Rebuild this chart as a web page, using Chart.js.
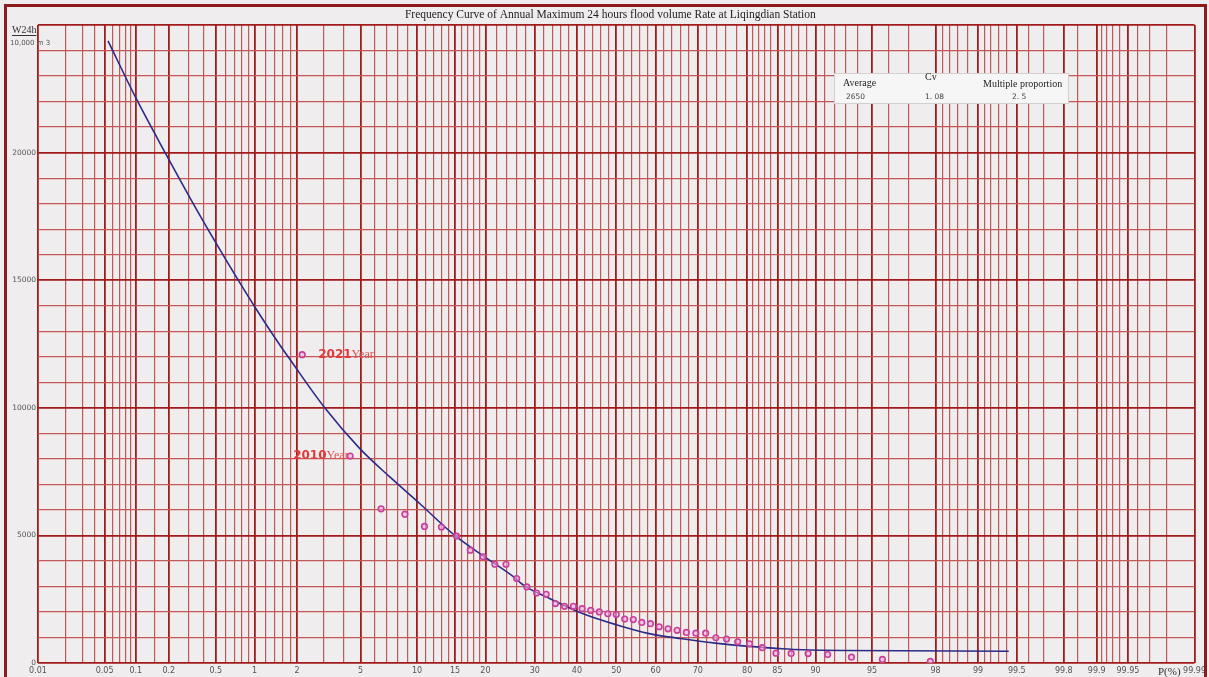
<!DOCTYPE html>
<html>
<head>
<meta charset="utf-8">
<script src="https://cdn.jsdelivr.net/npm/chart.js@4.4.1/dist/chart.umd.min.js"></script>
<style>
  html, body { margin: 0; padding: 0; background: #efeded; }
  #wrap { width: 1209px; height: 677px; position: relative; }
</style>
</head>
<body>
<div id="wrap"><canvas id="freqChart" width="1209" height="677"></canvas></div>
<script>
// --- data ---
const titleText = 'Frequency Curve of Annual Maximum 24 hours flood volume Rate at Liqingdian Station';

// empirical frequency points (P %, 10,000 m3)
const sampleP = [2.17, 4.35, 6.52, 8.70, 10.87, 13.04, 15.22, 17.39, 19.57, 21.74,
  23.91, 26.09, 28.26, 30.43, 32.61, 34.78, 36.96, 39.13, 41.30, 43.48,
  45.65, 47.83, 50.00, 52.17, 54.35, 56.52, 58.70, 60.87, 63.04, 65.22,
  67.39, 69.57, 71.74, 73.91, 76.09, 78.26, 80.43, 82.61, 84.78, 86.96,
  89.13, 91.30, 93.48, 95.65, 97.83];
const sampleVolume = [12080, 8110, 6040, 5830, 5350, 5330, 4970, 4420, 4160, 3870,
  3870, 3310, 2980, 2740, 2690, 2330, 2220, 2220, 2130, 2060,
  2000, 1930, 1900, 1720, 1700, 1590, 1540, 1420, 1340, 1280,
  1200, 1170, 1170, 990, 940, 830, 750, 600, 385, 375,
  370, 330, 230, 140, 60];

// fitted frequency curve
const curveP = [0.054, 0.1, 0.191, 0.315, 0.507, 0.75, 1.0, 1.52, 1.79, 3.04,
  4.94, 7.24, 10.3, 14.9, 19.6, 25, 28.1, 33.4, 41.4, 50,
  58.4, 66.4, 73.8, 80.4, 85.7, 88.5, 93, 99.42];
const curveVolume = [24380, 22150, 19900, 18120, 16420, 15010, 13970, 12470, 11900, 10000,
  8410, 7300, 6250, 5010, 4200, 3440, 2980, 2530, 1940, 1500,
  1150, 950, 780, 650, 560, 520, 490, 463];

// probability-paper grid
const xLabelP = [0.01, 0.05, 0.1, 0.2, 0.5, 1, 2, 5, 10, 15, 20, 30, 40, 50, 60, 70,
  80, 85, 90, 95, 98, 99, 99.5, 99.8, 99.9, 99.95, 99.99];
const xMinorP = [0.02, 0.03, 0.04, 0.06, 0.07, 0.08, 0.09, 0.15, 0.3, 0.4,
  0.6, 0.7, 0.8, 0.9, 1.2, 1.4, 1.6, 1.8, 3, 4, 6, 7, 8, 9,
  11, 12, 13, 14, 16, 17, 18, 19, 22, 24, 26, 28, 32, 34, 36, 38,
  42, 44, 46, 48, 52, 54, 56, 58, 62, 64, 66, 68, 72, 74, 76, 78,
  81, 82, 83, 84, 86, 87, 88, 89, 91, 92, 93, 94, 96, 97,
  98.2, 98.4, 98.6, 98.8, 99.1, 99.2, 99.3, 99.4, 99.6, 99.7, 99.85,
  99.91, 99.92, 99.93, 99.94, 99.96, 99.97, 99.98];
const yLabels = [0, 5000, 10000, 15000, 20000];

const statHeads = ['Average', 'Cv', 'Multiple proportion'];
const statValues = ['2650', '1. 08', '2. 5'];

// --- normal distribution helpers ---
function normInv(p) {
  const a = [-39.6968302866538, 220.946098424521, -275.928510446969, 138.357751867269, -30.6647980661472, 2.50662827745924];
  const b = [-54.4760987982241, 161.585836858041, -155.698979859887, 66.8013118877197, -13.2806815528857];
  const c = [-0.00778489400243029, -0.322396458041136, -2.40075827716184, -2.54973253934373, 4.37466414146497, 2.93816398269878];
  const d = [0.00778469570904146, 0.32246712907004, 2.445134137143, 3.75440866190742];
  const pl = 0.02425;
  let q, r;
  if (p < pl) {
    q = Math.sqrt(-2 * Math.log(p));
    return (((((c[0]*q+c[1])*q+c[2])*q+c[3])*q+c[4])*q+c[5]) / ((((d[0]*q+d[1])*q+d[2])*q+d[3])*q+1);
  }
  if (p > 1 - pl) {
    q = Math.sqrt(-2 * Math.log(1 - p));
    return -(((((c[0]*q+c[1])*q+c[2])*q+c[3])*q+c[4])*q+c[5]) / ((((d[0]*q+d[1])*q+d[2])*q+d[3])*q+1);
  }
  q = p - 0.5; r = q * q;
  return (((((a[0]*r+a[1])*r+a[2])*r+a[3])*r+a[4])*r+a[5])*q / (((((b[0]*r+b[1])*r+b[2])*r+b[3])*r+b[4])*r+1);
}
function normCdf(z) {
  const t = 1 / (1 + 0.2316419 * Math.abs(z));
  const dd = 0.3989423 * Math.exp(-z * z / 2);
  const pr = dd * t * (0.3193815 + t * (-0.3565638 + t * (1.781478 + t * (-1.821256 + t * 1.330274))));
  return z > 0 ? 1 - pr : pr;
}

// --- probability (normal) scale ---
class ProbabilityScale extends Chart.Scale {
  determineDataLimits() {
    this.min = xLabelP[0];
    this.max = xLabelP[xLabelP.length - 1];
  }
  buildTicks() {
    const all = xLabelP.concat(xMinorP).sort((p, q) => p - q);
    return all.map(v => ({ value: v, major: xLabelP.includes(v) }));
  }
  configure() {
    super.configure();
    this._zMin = normInv(this.min / 100);
    this._zMax = normInv(this.max / 100);
  }
  getLabelForValue(v) { return String(v); }
  getPixelForValue(v) {
    if (v === null || isNaN(v)) return NaN;
    const z = normInv(v / 100);
    return this.getPixelForDecimal((z - this._zMin) / (this._zMax - this._zMin));
  }
  getValueForPixel(px) {
    const dec = this.getDecimalForPixel(px);
    return 100 * normCdf(this._zMin + dec * (this._zMax - this._zMin));
  }
}
ProbabilityScale.id = 'probability';
ProbabilityScale.defaults = {};
Chart.register(ProbabilityScale);

const MAJOR_GRID = '#a11b1b';
const MINOR_GRID = '#c45858';

// --- background, frame and text overlays ---
const paperPlugin = {
  id: 'paper',
  beforeDraw(chart) {
    const c = chart.ctx;
    c.save();
    c.fillStyle = '#efeded';
    c.fillRect(0, 0, chart.width, chart.height);
    c.restore();
  },
  afterDraw(chart) {
    const c = chart.ctx;
    const area = chart.chartArea;
    const xs = chart.scales.x, ys = chart.scales.y;
    c.save();
    // outer frame
    c.strokeStyle = '#8e1b1b';
    c.lineWidth = 3;
    c.strokeRect(5.5, 5.5, chart.width - 9, chart.height + 10);

    // title
    c.fillStyle = '#1e1e1e';
    c.font = '11.5px "Liberation Serif"';
    c.textAlign = 'center';
    c.textBaseline = 'middle';
    c.fillText(titleText, (area.left + area.right) / 2 - 6, 15);

    // y axis name and unit
    c.textAlign = 'left';
    c.font = '10px "Liberation Serif"';
    c.fillStyle = '#333';
    c.fillText('W24h', 12, 30);
    c.fillRect(12, 35, c.measureText('W24h').width, 1);
    c.font = '7px "DejaVu Sans"';
    c.fillStyle = '#555';
    c.fillText('10,000 m 3', 10, 43);

    // x axis name
    c.font = '11px "Liberation Serif"';
    c.fillStyle = '#333';
    c.fillText('P(%)', 1158, 672);

    // statistics box
    const bx = 834, by = 73, bw = 234, bh = 30;
    c.fillStyle = '#f7f6f6';
    c.fillRect(bx, by, bw, bh);
    c.strokeStyle = '#d4d0d0';
    c.lineWidth = 1;
    c.strokeRect(bx + 0.5, by + 0.5, bw, bh);
    c.fillStyle = '#1e1e1e';
    c.font = '10px "Liberation Serif"';
    c.fillText(statHeads[0], 843, 83);
    c.fillText(statHeads[1], 925, 77);
    c.fillText(statHeads[2], 983, 84);
    c.font = '7.5px "DejaVu Sans"';
    c.fillStyle = '#444';
    c.fillText(statValues[0], 846, 97);
    c.fillText(statValues[1], 925, 97);
    c.fillText(statValues[2], 1012, 97);

    // year annotations next to the two largest floods
    const notes = [['2021', 0, 16], ['2010', 1, -57]];
    notes.forEach(([yr, i, dx]) => {
      const px = xs.getPixelForValue(sampleP[i]) + dx;
      const py = ys.getPixelForValue(sampleVolume[i]);
      c.fillStyle = '#e23a3a';
      c.font = 'bold 12px "DejaVu Sans"';
      c.fillText(yr, px, py);
      const w = c.measureText(yr).width;
      c.font = '12px "Liberation Serif"';
      c.fillStyle = '#e05050';
      c.fillText('Year', px + w, py);
    });
    c.restore();
  }
};

const ctx = document.getElementById('freqChart').getContext('2d');
new Chart(ctx, {
  type: 'scatter',
  data: {
    datasets: [
      {
        label: 'Frequency curve',
        data: curveP.map((p, i) => ({ x: p, y: curveVolume[i] })),
        showLine: true,
        borderColor: '#2c2c88',
        borderWidth: 1.6,
        pointRadius: 0,
        cubicInterpolationMode: 'monotone',
        order: 2
      },
      {
        label: 'Measured',
        data: sampleP.map((p, i) => ({ x: p, y: sampleVolume[i] })),
        showLine: false,
        pointStyle: 'circle',
        pointRadius: 2.8,
        borderWidth: 1.6,
        borderColor: '#c8409c',
        backgroundColor: 'rgba(236,170,220,0.6)',
        order: 1
      }
    ]
  },
  options: {
    responsive: false,
    animation: false,
    layout: { padding: { top: 25, right: 13, left: 0, bottom: 0 } },
    plugins: {
      legend: { display: false },
      tooltip: { enabled: false },
      title: { display: false }
    },
    scales: {
      x: {
        type: 'probability',
        position: 'bottom',
        border: { display: false },
        grid: {
          drawTicks: false,
          color: c => (c.tick && c.tick.major) ? MAJOR_GRID : MINOR_GRID,
          lineWidth: c => (c.tick && c.tick.major) ? 1.8 : 1.2
        },
        ticks: {
          autoSkip: false,
          maxRotation: 0,
          minRotation: 0,
          padding: 3,
          color: '#555',
          font: { size: 8, family: 'DejaVu Sans' },
          callback: v => xLabelP.includes(v) ? String(v) : ''
        },
        afterFit: s => { s.height = 14; }
      },
      y: {
        min: 0,
        max: 25000,
        border: { display: false },
        grid: {
          drawTicks: false,
          color: c => (c.tick && c.tick.value % 5000 === 0) ? MAJOR_GRID : MINOR_GRID,
          lineWidth: c => (c.tick && c.tick.value % 5000 === 0) ? 1.8 : 1.2
        },
        ticks: {
          stepSize: 1000,
          autoSkip: false,
          padding: 2,
          color: '#555',
          font: { size: 7.5, family: 'DejaVu Sans' },
          callback: v => yLabels.includes(v) ? String(v) : ''
        },
        afterFit: s => { s.width = 38; }
      }
    }
  },
  plugins: [paperPlugin]
});
</script>
</body>
</html>
